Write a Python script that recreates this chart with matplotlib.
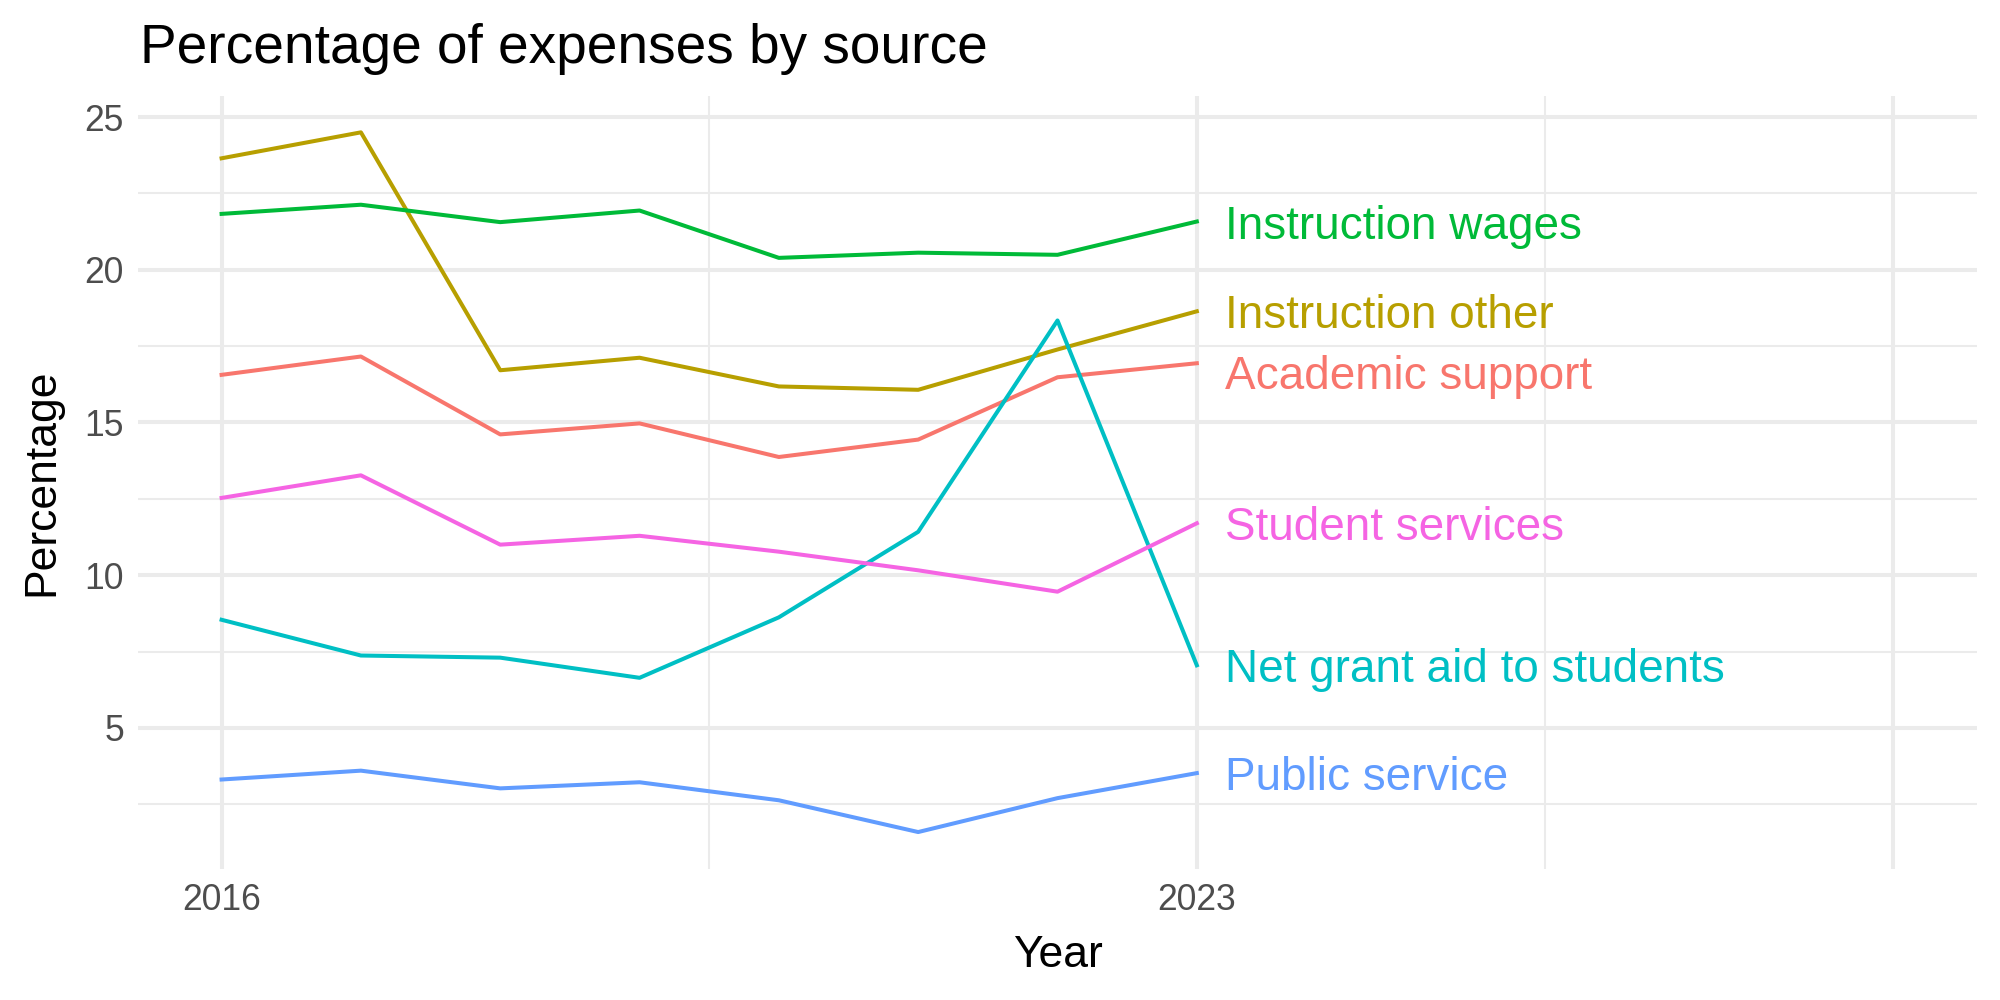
import numpy as np
import matplotlib
matplotlib.use("Agg")
import matplotlib.pyplot as plt

plt.rcParams['font.family'] = ['Liberation Sans', 'DejaVu Sans']

# datos
years = [2016, 2017, 2018, 2019, 2020, 2021, 2022, 2023]
sources = ['Academic support', 'Instruction other', 'Instruction wages',
           'Net grant aid to students', 'Public service', 'Student services']
academic_support = [16.56, 17.16, 14.61, 14.97, 13.87, 14.44, 16.48, 16.94]
instruction_other = [23.65, 24.50, 16.71, 17.12, 16.18, 16.07, 17.39, 18.64]
instruction_wages = [21.83, 22.13, 21.56, 21.94, 20.39, 20.56, 20.49, 21.58]
net_grant_aid = [8.54, 7.37, 7.30, 6.64, 8.62, 11.42, 18.34, 7.05]
public_service = [3.31, 3.60, 3.02, 3.22, 2.63, 1.59, 2.70, 3.52]
student_services = [12.53, 13.27, 11.00, 11.29, 10.77, 10.16, 9.46, 11.70]
series = [academic_support, instruction_other, instruction_wages,
          net_grant_aid, public_service, student_services]

# colores por defecto de ggplot (hue)
colors = ['#F8766D', '#B79F00', '#00BA38', '#00BFC4', '#619CFF', '#F564E3']

# desplazamiento vertical de las etiquetas (evitar solapamiento)
label_nudge = {'Academic support': -0.3}

x_ticks = [2016, 2023]
x_major = [2016, 2023, 2028]
x_minor = [2019.5, 2025.5]
y_major = [5, 10, 15, 20, 25]
y_minor = [2.5, 7.5, 12.5, 17.5, 22.5]

fig = plt.figure(figsize=(10, 5), dpi=200)
ax = fig.add_axes([0.069, 0.131, 0.9195, 0.773])

grid = '#EBEBEB'
for v in y_minor:
    ax.axhline(v, color=grid, lw=0.75, zorder=0)
for v in x_minor:
    ax.axvline(v, color=grid, lw=0.75, zorder=0)
for v in y_major:
    ax.axhline(v, color=grid, lw=1.45, zorder=0)
for v in x_major:
    ax.axvline(v, color=grid, lw=1.45, zorder=0)

for name, vals, c in zip(sources, series, colors):
    ax.plot(years, vals, color=c, lw=1.45, zorder=3)
    ax.text(years[-1] + 0.2, vals[-1] + label_nudge.get(name, 0), name,
            color=c, fontsize=16.5, ha='left', va='center_baseline', zorder=4)

ax.set_xlim(2015.4, 2028.6)
ax.set_ylim(0.38, 25.69)
ax.set_xticks(x_ticks)
ax.set_xticklabels([str(t) for t in x_ticks])
ax.set_yticks(y_major)
ax.tick_params(length=0, labelsize=12.8, labelcolor='#4D4D4D', pad=5)
for s in ax.spines.values():
    s.set_visible(False)

ax.set_xlabel('Year', fontsize=16, labelpad=6)
ax.set_ylabel('Percentage', fontsize=16, labelpad=8)
fig.text(0.07, 0.951, 'Percentage of expenses by source', fontsize=19.8,
         ha='left', va='center')

plt.savefig('out.png', dpi=200)
